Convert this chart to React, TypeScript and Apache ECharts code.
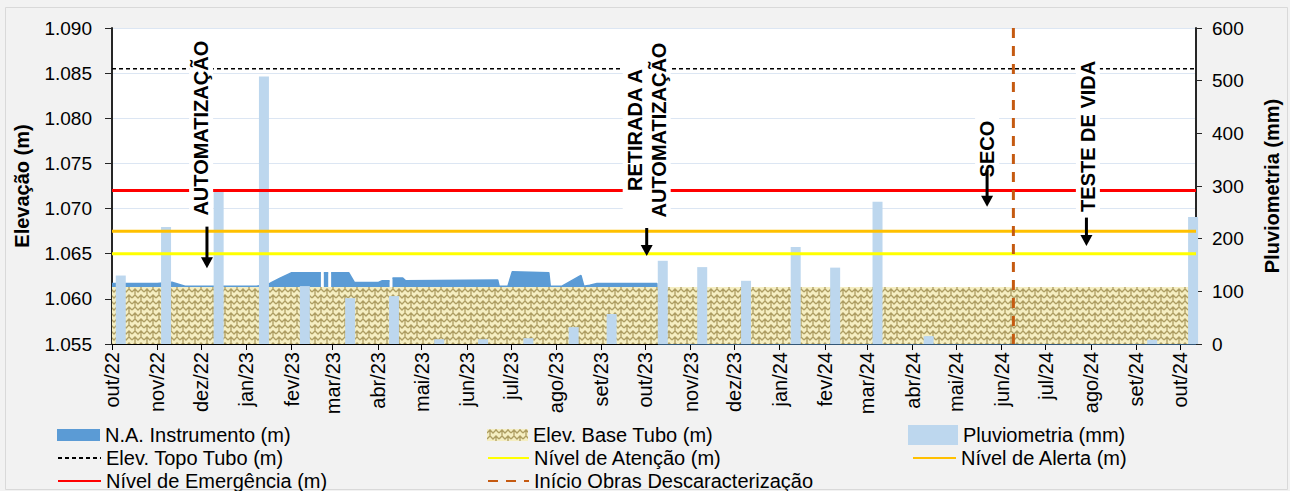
import React, { useEffect, useRef } from 'react';
import * as echarts from 'echarts';

const FONT = 'Liberation Sans, Arial, Helvetica, sans-serif';

// ---- axis range / ticks ----
const xStart = '2022-10-01';
const xEnd = '2024-10-12';
const monthTickDates = ['2022-10-01', '2022-11-01', '2022-12-01', '2023-01-01', '2023-02-01', '2023-03-01', '2023-04-01', '2023-05-01', '2023-06-01', '2023-07-01', '2023-08-01', '2023-09-01', '2023-10-01', '2023-11-01', '2023-12-01', '2024-01-01', '2024-02-01', '2024-03-01', '2024-04-01', '2024-05-01', '2024-06-01', '2024-07-01', '2024-08-01', '2024-09-01', '2024-10-01'];
const monthTickLabels = ['out/22', 'nov/22', 'dez/22', 'jan/23', 'fev/23', 'mar/23', 'abr/23', 'mai/23', 'jun/23', 'jul/23', 'ago/23', 'set/23', 'out/23', 'nov/23', 'dez/23', 'jan/24', 'fev/24', 'mar/24', 'abr/24', 'mai/24', 'jun/24', 'jul/24', 'ago/24', 'set/24', 'out/24'];
const elevMin = 1.055;
const elevMax = 1.09;
const elevInterval = 0.005;
const rainMin = 0;
const rainMax = 600;
const rainInterval = 100;

// ---- N.A. Instrumento (m) ----
const naDates = ['2022-10-01', '2022-11-01', '2022-11-11', '2022-11-20', '2023-01-08', '2023-01-17', '2023-01-24', '2023-02-01', '2023-02-21', '2023-02-22', '2023-02-23', '2023-02-26', '2023-02-27', '2023-02-28', '2023-03-12', '2023-03-16', '2023-04-01', '2023-04-04', '2023-04-09', '2023-04-10', '2023-04-11', '2023-04-18', '2023-04-20', '2023-06-22', '2023-06-23', '2023-06-29', '2023-07-02', '2023-07-27', '2023-07-28', '2023-08-05', '2023-08-18', '2023-08-20', '2023-08-24', '2023-08-29', '2023-10-09', '2023-10-10', '2024-10-12'];
const naValues: (number | null)[] = [1.0617, 1.0617, 1.06185, 1.0614, 1.0614, 1.0617, 1.0623, 1.0629, 1.0629, null, 1.0629, 1.0629, null, 1.0629, 1.0629, 1.0618, 1.0618, 1.062, 1.062, null, 1.0623, 1.0623, 1.062, 1.0621, 1.0614, 1.0614, 1.063, 1.0629, 1.0614, 1.0614, 1.0626, 1.0614, 1.0615, 1.0617, 1.0617, 1.055, 1.055];

// ---- Pluviometria (mm) ----
const rainDates = ['2022-10-07', '2022-11-07', '2022-12-13', '2023-01-13', '2023-02-10', '2023-03-13', '2023-04-12', '2023-05-13', '2023-06-12', '2023-07-13', '2023-08-13', '2023-09-08', '2023-10-13', '2023-11-09', '2023-12-09', '2024-01-12', '2024-02-08', '2024-03-08', '2024-04-12', '2024-09-12', '2024-10-10'];
const rainValues = [130, 222, 289, 508, 110, 87, 91, 9, 9, 11, 32, 57, 158, 146, 120, 184, 145, 270, 15, 8, 241];

// ---- reference levels ----
const baseTubo = 1.0613;
const baseTuboEnd = '2024-10-09';
const topoTubo = 1.0855;
const nivelAtencao = 1.065;
const nivelAlerta = 1.0675;
const nivelEmergencia = 1.072;
const inicioObras = '2024-06-09';

// ---- annotations ----
const annotTexts = [['AUTOMATIZAÇÃO'], ['RETIRADA A', 'AUTOMATIZAÇÃO'], ['SECO'], ['TESTE DE VIDA']];
const annotTextDates = ['2022-12-01', '2023-10-02', '2024-05-22', '2024-07-30'];
const annotTextValues = [1.0789, 1.0787, 1.0766, 1.0780];
const annotArrowDates = ['2022-12-05', '2023-10-02', '2024-05-22', '2024-07-29'];
const annotArrowFrom = [1.0680, 1.06785, 1.0743, 1.0690];
const annotArrowTo = [1.0634, 1.06475, 1.0702, 1.06586];

function ts(s: string): number {
  const [y, m, d] = s.split('-').map(Number);
  return Date.UTC(y, m - 1, d);
}

function makePattern(): HTMLCanvasElement {
  const c = document.createElement('canvas');
  c.width = 12;
  c.height = 12;
  const g = c.getContext('2d')!;
  g.fillStyle = '#f5eec2';
  g.fillRect(0, 0, 12, 12);
  g.strokeStyle = '#ad9d62';
  g.lineWidth = 1.3;
  g.beginPath();
  g.moveTo(0, 4); g.lineTo(3, 1); g.lineTo(6, 4); g.lineTo(9, 1); g.lineTo(12, 4);
  g.moveTo(0, 10); g.lineTo(3, 7); g.lineTo(6, 10); g.lineTo(9, 7); g.lineTo(12, 10);
  g.moveTo(3, 1); g.lineTo(3, 7);
  g.moveTo(9, 7); g.lineTo(9, 12);
  g.moveTo(9, 0); g.lineTo(9, 1);
  g.stroke();
  return c;
}

export default function App() {
  const ref = useRef<HTMLDivElement>(null);

  useEffect(() => {
    if (!ref.current) return;
    const chart = echarts.init(ref.current, undefined, { renderer: 'svg' });
    const monthTs = monthTickDates.map(ts);
    const labelFor = (v: number) => {
      let best = 0;
      let bd = Infinity;
      monthTs.forEach((t, i) => {
        const d = Math.abs(t - v);
        if (d < bd) { bd = d; best = i; }
      });
      return monthTickLabels[best];
    };
    const pattern = { image: makePattern(), repeat: 'repeat' } as any;
    const x0 = ts(xStart);
    const x1 = ts(xEnd);
    const hline = (v: number) => [[x0, v], [x1, v]];

    const legendText = { fontSize: 20, color: '#000', fontFamily: FONT, lineHeight: 22 };
    const lg = (name: string, left: number, top: number, extra: any = {}) => ({
      data: [name], left, top, padding: 0, itemWidth: 43, itemHeight: 14, itemGap: 0,
      selectedMode: false, textStyle: legendText, ...extra,
    });
    const hideSym = { itemStyle: { color: 'rgba(0,0,0,0)', borderWidth: 0, opacity: 0 } };

    chart.setOption({
      animation: false,
      backgroundColor: '#f2f2f2',
      textStyle: { fontFamily: FONT },
      grid: { left: 112, right: 93, top: 28, bottom: 147, show: true, backgroundColor: '#ffffff', borderWidth: 0 },
      legend: [
        lg('N.A. Instrumento (m)', 57, 424, { icon: 'rect', itemHeight: 12 }),
        lg('Elev. Base Tubo (m)', 487, 424, { icon: 'rect', itemWidth: 41, itemHeight: 12, data: [{ name: 'Elev. Base Tubo (m)', itemStyle: { color: pattern } }] }),
        lg('Pluviometria (mm)', 908, 424, { icon: 'rect', itemWidth: 50, itemHeight: 20 }),
        lg('Elev. Topo Tubo (m)', 57, 447, hideSym),
        lg('Nível de Atenção (m)', 487, 447, { ...hideSym, itemWidth: 41 }),
        lg('Nível de Alerta (m)', 912, 447, hideSym),
        lg('Nível de Emergência (m)', 57, 470, hideSym),
        lg('Início Obras Descaracterização', 487, 470, { ...hideSym, itemWidth: 41 }),
      ],
      xAxis: {
        type: 'value', min: x0, max: x1,
        axisLine: { show: true, onZero: false, lineStyle: { color: '#000', width: 1 } },
        axisTick: { show: true, customValues: monthTs, length: 6, lineStyle: { color: '#000' } },
        axisLabel: { customValues: monthTs, rotate: 90, formatter: (v: number) => labelFor(v), fontSize: 20, color: '#000', margin: 8, fontFamily: FONT },
        splitLine: { show: false },
      },
      yAxis: [
        {
          type: 'value', min: elevMin, max: elevMax, interval: elevInterval, position: 'left',
          name: 'Elevação (m)', nameLocation: 'middle', nameRotate: 90, nameGap: 80,
          nameTextStyle: { fontWeight: 'bold', fontSize: 20, color: '#000', fontFamily: FONT },
          axisLine: { show: true, lineStyle: { color: '#262626', width: 2 } },
          axisTick: { show: true, length: 7, lineStyle: { color: '#262626' } },
          axisLabel: { formatter: (v: number) => v.toFixed(3), fontSize: 19, color: '#000', margin: 20, fontFamily: FONT },
          splitLine: { show: true, lineStyle: { color: '#dce6f3', width: 1 } },
        },
        {
          type: 'value', min: rainMin, max: rainMax, interval: rainInterval, position: 'right',
          name: 'Pluviometria (mm)', nameLocation: 'middle', nameRotate: 90, nameGap: 66,
          nameTextStyle: { fontWeight: 'bold', fontSize: 20, color: '#000', fontFamily: FONT },
          axisLine: { show: true, lineStyle: { color: '#262626', width: 2 } },
          axisTick: { show: true, length: 6, lineStyle: { color: '#262626' } },
          axisLabel: { fontSize: 19, color: '#000', margin: 16, fontFamily: FONT },
          splitLine: { show: false },
        },
      ],
      series: [
        {
          name: 'N.A. Instrumento (m)', type: 'line', symbol: 'none', connectNulls: false, z: 1,
          data: naDates.map((d, i) => [ts(d), naValues[i] === null ? '-' : naValues[i]]),
          itemStyle: { color: '#5b9bd5' },
          lineStyle: { color: '#5b9bd5', width: 1.5 },
          areaStyle: { color: '#5b9bd5', opacity: 1, origin: 'start' },
        },
        {
          name: 'Elev. Base Tubo (m)', type: 'line', symbol: 'none', z: 2,
          data: [[x0, baseTubo], [ts(baseTuboEnd), baseTubo]],
          itemStyle: { color: '#e6dca8' },
          lineStyle: { width: 0 },
          areaStyle: { color: pattern, opacity: 1, origin: 'start' },
        },
        {
          name: 'Pluviometria (mm)', type: 'bar', yAxisIndex: 1, barWidth: 10, z: 3,
          data: rainDates.map((d, i) => [ts(d), rainValues[i]]),
          itemStyle: { color: '#bdd7ee' },
        },
        {
          name: 'Elev. Topo Tubo (m)', type: 'line', symbol: 'none', data: hline(topoTubo), z: 4,
          itemStyle: { color: '#000' }, lineStyle: { color: '#000', width: 1.5, type: [4, 3] },
        },
        {
          name: 'Nível de Atenção (m)', type: 'line', symbol: 'none', data: hline(nivelAtencao), z: 4,
          itemStyle: { color: '#ffff00' }, lineStyle: { color: '#ffff00', width: 3 },
        },
        {
          name: 'Nível de Alerta (m)', type: 'line', symbol: 'none', data: hline(nivelAlerta), z: 4,
          itemStyle: { color: '#ffc000' }, lineStyle: { color: '#ffc000', width: 3 },
        },
        {
          name: 'Nível de Emergência (m)', type: 'line', symbol: 'none', data: hline(nivelEmergencia), z: 4,
          itemStyle: { color: '#ff0000' }, lineStyle: { color: '#ff0000', width: 3 },
        },
        {
          name: 'Início Obras Descaracterização', type: 'line', symbol: 'none', z: 5,
          data: [[ts(inicioObras), elevMin], [ts(inicioObras), elevMax]],
          itemStyle: { color: '#c55a11' }, lineStyle: { color: '#c55a11', width: 3, type: [10, 8] },
        },
      ],
    });

    const graphics: any[] = [
      { type: 'rect', shape: { x: 5.5, y: 7.5, width: 1282, height: 482 }, style: { fill: 'none', stroke: '#d9d9d9', lineWidth: 1 }, z: 0, silent: true },
    ];
    annotTexts.forEach((lines, i) => {
      const tp = chart.convertToPixel({ gridIndex: 0 }, [ts(annotTextDates[i]), annotTextValues[i]]) as number[];
      const a0 = chart.convertToPixel({ gridIndex: 0 }, [ts(annotArrowDates[i]), annotArrowFrom[i]]) as number[];
      const a1 = chart.convertToPixel({ gridIndex: 0 }, [ts(annotArrowDates[i]), annotArrowTo[i]]) as number[];
      graphics.push({
        type: 'text', x: tp[0], y: tp[1], rotation: Math.PI / 2, z: 100,
        style: {
          text: lines.join('\n'), font: `bold 20px ${FONT}`, fill: '#000', align: 'center', verticalAlign: 'middle',
          lineHeight: 24, backgroundColor: '#ffffff', padding: [0, 3],
        },
      });
      graphics.push({
        type: 'line', z: 100,
        shape: { x1: a0[0], y1: a0[1], x2: a1[0], y2: a1[1] - 9 },
        style: { stroke: '#000', lineWidth: 3 },
      });
      graphics.push({
        type: 'polygon', z: 100,
        shape: { points: [[a1[0] - 6, a1[1] - 11], [a1[0] + 6, a1[1] - 11], [a1[0], a1[1]]] },
        style: { fill: '#000' },
      });
    });
    chart.setOption({ graphic: graphics });

    return () => chart.dispose();
  }, []);

  return <div ref={ref} style={{ position: 'fixed', left: 0, top: 0, width: 1290, height: 491 }} />;
}
